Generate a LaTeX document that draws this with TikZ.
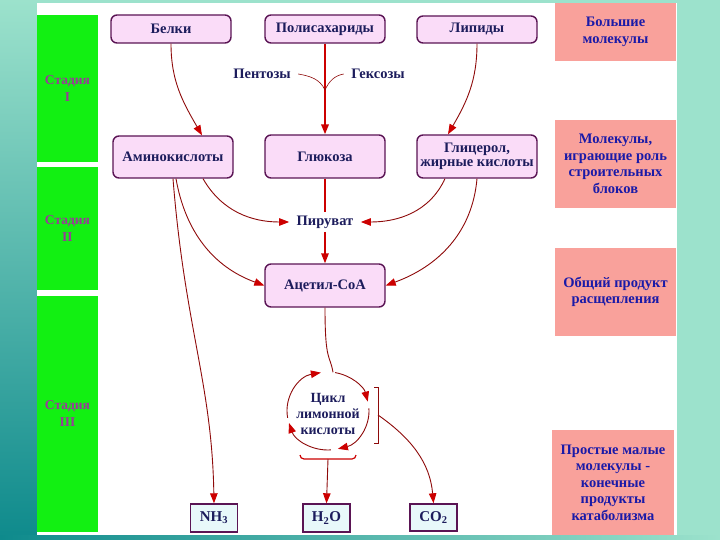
\documentclass[tikz,border=0pt]{standalone}
\usepackage{fontspec}
\setmainfont{Liberation Serif}
\usetikzlibrary{arrows.meta}
\definecolor{sea}{HTML}{9CE2CC}
\definecolor{deepsea}{HTML}{0E8A8C}
\definecolor{stagegreen}{HTML}{12F012}
\definecolor{stagetext}{HTML}{9A3A9A}
\definecolor{molfill}{HTML}{FADCF8}
\definecolor{molline}{HTML}{5A1454}
\definecolor{moltext}{HTML}{1C1C5C}
\definecolor{notefill}{HTML}{F9A19B}
\definecolor{notetext}{HTML}{1A1AA8}
\definecolor{prodfill}{HTML}{E8F8FA}
\definecolor{flowred}{HTML}{CC0000}
\definecolor{flowdark}{HTML}{8E0A0A}

\begin{document}
\begin{tikzpicture}[
  x=1pt, y=1pt,
  stagebar/.style={fill=stagegreen, minimum width=61pt, inner sep=0pt, align=center,
                   text=stagetext, font=\bfseries\fontsize{13.5}{17}\selectfont},
  molnode/.style={draw=molline, line width=1.4pt, fill=molfill, rounded corners=6pt,
                  minimum width=120pt, inner sep=0pt, align=center, text=moltext,
                  font=\bfseries\fontsize{14.5}{14}\selectfont},
  prodbox/.style={draw=molline, line width=1.4pt, fill=prodfill, minimum width=47pt,
                  minimum height=28pt, inner sep=0pt, text=moltext,
                  font=\bfseries\fontsize{15}{15}\selectfont},
  notebox/.style={fill=notefill, minimum width=121pt, inner sep=0pt, align=center,
                  text=notetext, font=\bfseries\fontsize{14.5}{16.5}\selectfont},
  plaintext/.style={text=moltext, font=\bfseries\fontsize{14.5}{14}\selectfont},
  flow/.style={draw=flowdark, line width=0.9pt, -{Triangle[length=10pt,width=7.5pt,color=flowred]}},
  mainflow/.style={flow, draw=flowred, line width=2pt},
  thinline/.style={draw=flowdark, line width=0.9pt},
]
  % background
  \fill[sea] (0,0) rectangle (720,-540);
  \shade[top color=sea, bottom color=deepsea] (0,0) rectangle (37,-540);
  \shade[left color=deepsea, right color=sea] (0,-535) rectangle (720,-540);
  \fill[white] (37,-3) rectangle (677,-535);

  % stages
  \node[stagebar, minimum height=147pt] (st1) at (67.5,-88.5) {Стадия\\I};
  \node[stagebar, minimum height=123pt] (st2) at (67.5,-228.5) {Стадия\\II};
  \node[stagebar, minimum height=236pt] (st3) at (67.5,-414) {Стадия\\III};

  % notes on the right
  \node[notebox, minimum height=58pt] (n1) at (615.5,-32) {Большие\\молекулы};
  \node[notebox, minimum height=88pt] (n2) at (615.5,-164) {Молекулы,\\играющие роль\\строительных\\блоков};
  \node[notebox, minimum height=88pt] (n3) at (615.5,-292) {Общий продукт\\расщепления};
  \node[notebox, minimum width=122pt, minimum height=105pt] (n4) at (613,-482.5)
    {Простые малые\\молекулы -\\конечные\\продукты\\катаболизма};

  % large molecules
  \node[molnode, minimum height=28pt] (prot) at (171,-29) {Белки};
  \node[molnode, minimum height=28pt] (poly) at (325,-29) {Полисахариды};
  \node[molnode, minimum height=27pt] (lip) at (477,-29.5) {Липиды};

  % building blocks
  \node[molnode, minimum height=42pt] (amino) at (173,-157) {Аминокислоты};
  \node[molnode, minimum height=43pt] (gluc) at (325,-156.5) {Глюкоза};
  \node[molnode, minimum height=43pt] (glyc) at (477,-156.5) {Глицерол,\\жирные кислоты};

  \node[plaintext] (pyr) at (325,-222) {Пируват};
  \node[molnode, minimum height=43pt] (acoa) at (325,-285.5) {Ацетил-СоА};

  \node[plaintext] (pent) at (262,-74) {Пентозы};
  \node[plaintext] (hex) at (378,-74) {Гексозы};
  \coordinate (merge) at (325,-90);

  % cycle
  \coordinate (cycc) at (328,-411);
  \node[text=moltext, align=center, inner sep=0pt,
        font=\bfseries\fontsize{14}{16}\selectfont] (cyc) at (328,-414) {Цикл\\лимонной\\кислоты};
  \coordinate (cyctop) at ([shift={(83:41 and 39)}]cycc);
  \coordinate (brmid) at (328,-459);
  \coordinate (brR) at (378,-415);

  % end products
  \node[prodbox] (nh) at (214,-518) {NH\textsubscript{3}};
  \node[prodbox] (water) at (326.5,-518) {H\textsubscript{2}O};
  \node[prodbox, minimum height=27pt] (co) at (433.5,-517.5) {CO\textsubscript{2}};

  % stage I
  \draw[flow] (prot.south) to[out=-90, in=120] ([xshift=29pt]amino.north);
  \draw[mainflow] (poly.south) -- (gluc.north);
  \draw[flow] (lip.south) to[out=-90, in=60] ([xshift=-29pt]glyc.north);
  \draw[thinline, line width=0.6pt] ([xshift=4pt]pent.east) to[out=-10, in=115] (merge);
  \draw[thinline, line width=0.6pt] ([xshift=-4pt]hex.west) to[out=190, in=65] (merge);

  % stage II
  \draw[thinline, draw=flowred, line width=1.5pt] (gluc.south) -- (pyr.north);
  \draw[flow, draw=flowred, line width=1.5pt] (pyr.south) -- (acoa.north);
  \draw[flow] ([xshift=30pt]amino.south) to[out=-60, in=180] ([xshift=-4pt]pyr.west);
  \draw[flow] ([xshift=-32pt]glyc.south) to[out=-115, in=0] ([xshift=4pt]pyr.east);
  \draw[flow] ([xshift=3pt]amino.south) to[out=-80, in=160] (acoa.west);
  \draw[flow] (glyc.south) to[out=-95, in=20] (acoa.east);

  % stage III
  \draw[flow] (amino.south) .. controls +(12,-150) and +(-2,120) .. (nh.north);
  \draw[thinline] (acoa.south) .. controls +(0,-55) and +(-3,18) .. (cyctop);
  \draw[flow] ([shift={(190:41 and 39)}]cycc) arc[start angle=190, end angle=100, x radius=41, y radius=39];
  \draw[flow] ([shift={(80:41 and 39)}]cycc) arc[start angle=80, end angle=14, x radius=41, y radius=39];
  \draw[flow] ([shift={(4:41 and 39)}]cycc) arc[start angle=4, end angle=-76, x radius=41, y radius=39];
  \draw[flow] ([shift={(-86:41 and 39)}]cycc) arc[start angle=-86, end angle=-162, x radius=41, y radius=39];
  \draw[thinline, draw=flowred, line width=1.2pt] (300,-455) to[out=-90, in=180] (304,-459) -- (352,-459) to[out=0, in=-90] (356,-455);
  \draw[thinline] (374,-387) -- (378,-387) -- (378,-443) -- (374,-443);
  \draw[flow] (brmid) -- (water.north);
  \draw[flow] (brR) to[out=-35, in=95] (co.north);
\end{tikzpicture}
\end{document}
